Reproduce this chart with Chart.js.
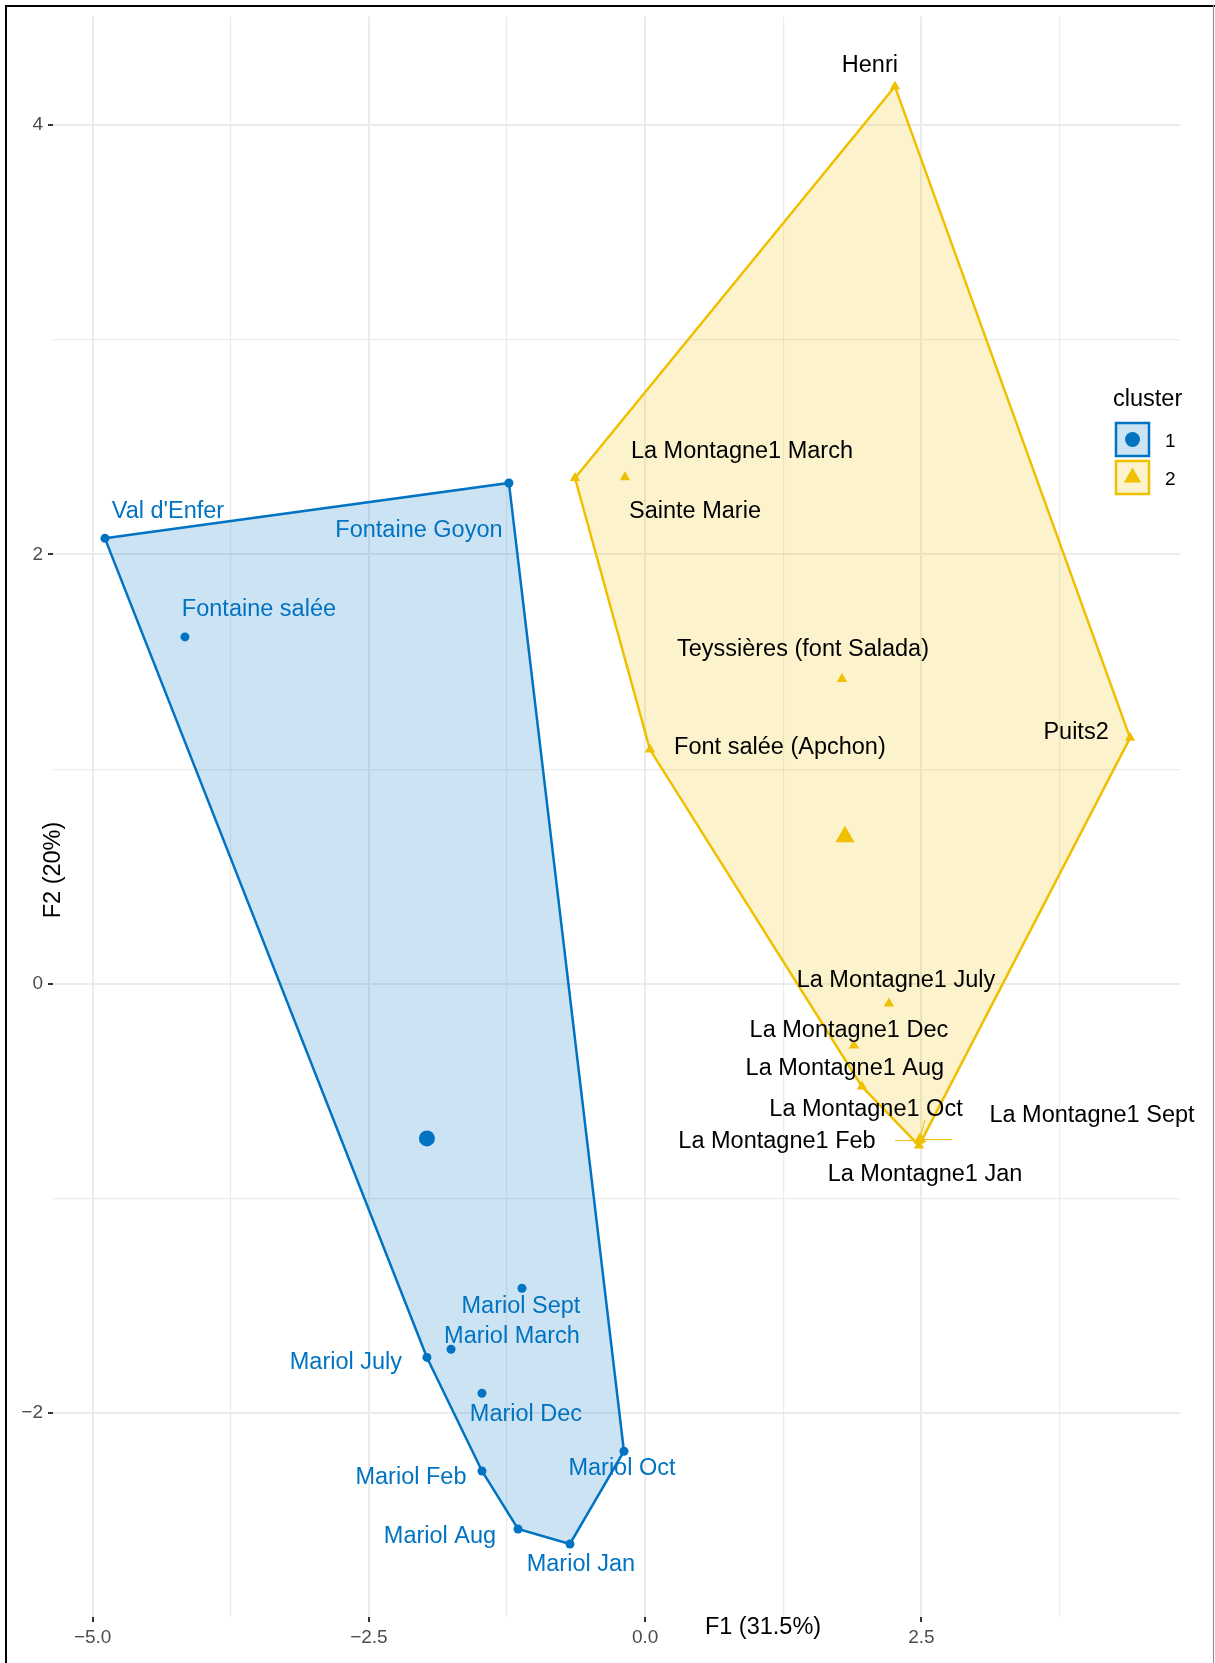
<!DOCTYPE html>
<html lang="en">
<head>
  <meta charset="UTF-8">
  <title>Cluster plot</title>
  <script src="https://cdn.jsdelivr.net/npm/chart.js"></script>
  <style>
    html, body { margin: 0; padding: 0; background: #fff; }
    #wrap { width: 1215px; height: 1663px; }
  </style>
</head>
<body>
<div id="wrap"><canvas id="clusterChart" width="1215" height="1663"></canvas></div>

<script>
  // cluster 1
  const names1 = ["Val d'Enfer", "Fontaine Goyon", "Fontaine salée", "Mariol Sept", "Mariol March",
    "Mariol July", "Mariol Dec", "Mariol Oct", "Mariol Feb", "Mariol Aug", "Mariol Jan"];
  const f1Cluster1 = [-4.889, -1.233, -4.165, -1.115, -1.757, -1.975, -1.477, -0.192, -1.477, -1.151, -0.681];
  const f2Cluster1 = [2.075, 2.333, 1.616, -1.418, -1.702, -1.740, -1.907, -2.177, -2.269, -2.539, -2.609];
  const centre1 = [-1.975, -0.720];
  const hull1 = ["Val d'Enfer", "Fontaine Goyon", "Mariol Oct", "Mariol Jan", "Mariol Aug", "Mariol Feb", "Mariol July"];

  // cluster 2
  const names2 = ["Henri", "La Montagne1 March", "Sainte Marie", "Teyssières (font Salada)", "Font salée (Apchon)",
    "Puits2", "La Montagne1 July", "La Montagne1 Dec", "La Montagne1 Aug", "La Montagne1 Oct",
    "La Montagne1 Sept", "La Montagne1 Feb", "La Montagne1 Jan"];
  const f1Cluster2 = [2.260, -0.183, -0.635, 1.781, 0.043, 4.388, 2.206, 1.889, 1.961, 2.487, 2.496, 2.478, 2.478];
  const f2Cluster2 = [4.180, 2.360, 2.356, 1.420, 1.091, 1.146, -0.092, -0.287, -0.478, -0.720, -0.725, -0.730, -0.753];
  const centre2 = [1.808, 0.685];
  const hull2 = ["Sainte Marie", "Henri", "Puits2", "La Montagne1 Jan", "La Montagne1 Aug", "Font salée (Apchon)"];

  const xTicks = [-5, -3.75, -2.5, -1.25, 0, 1.25, 2.5, 3.75];
  const xMajor = [-5, -2.5, 0, 2.5];
  const yTicks = [-2, -1, 0, 1, 2, 3, 4];
  const yMajor = [-2, 0, 2, 4];

  // label placement (pixel offset from the point), like ggrepel put them
  const labelShift = {
    "Val d'Enfer": [63, -29], "Fontaine Goyon": [-90, 46], "Fontaine salée": [74, -29],
    "Mariol Sept": [-1, 16], "Mariol March": [61, -15], "Mariol July": [-81, 3], "Mariol Dec": [44, 19],
    "Mariol Oct": [-2, 15], "Mariol Feb": [-71, 5], "Mariol Aug": [-78, 6], "Mariol Jan": [11, 19],
    "Henri": [-25, -23], "La Montagne1 March": [117, -28], "Sainte Marie": [120, 32],
    "Teyssières (font Salada)": [-39, -31], "Font salée (Apchon)": [130, -4], "Puits2": [-54, -7],
    "La Montagne1 July": [7, -25], "La Montagne1 Dec": [-5, -17], "La Montagne1 Aug": [-17, -20],
    "La Montagne1 Oct": [-54, -31], "La Montagne1 Sept": [171, -26], "La Montagne1 Feb": [-142, -1],
    "La Montagne1 Jan": [6, 27]
  };
  const segmentEnd = { "La Montagne1 Feb": [-24, 0], "La Montagne1 Sept": [31, 0], "La Montagne1 Oct": [5, -19] };

  const BLUE = '#0073C2';
  const GOLD = '#EFC000';
  const FONT = '"Liberation Sans", Arial, Helvetica, sans-serif';

  function points(names, xs, ys) {
    return names.map((n, i) => ({ x: xs[i], y: ys[i], name: n }));
  }
  function hullPoints(order, names, xs, ys) {
    const p = order.map(n => { const i = names.indexOf(n); return { x: xs[i], y: ys[i] }; });
    p.push(p[0]);
    return p;
  }

  const pts1 = points(names1, f1Cluster1, f2Cluster1);
  const pts2 = points(names2, f1Cluster2, f2Cluster2);

  const overlay = {
    id: 'overlay',
    afterDatasetsDraw(chart) {
      const ctx = chart.ctx;
      const xs = chart.scales.x, ys = chart.scales.y;
      ctx.save();
      // repel segments
      ctx.strokeStyle = GOLD;
      ctx.lineWidth = 1;
      pts2.forEach(p => {
        const s = segmentEnd[p.name];
        if (!s) return;
        const px = xs.getPixelForValue(p.x), py = ys.getPixelForValue(p.y);
        ctx.beginPath();
        ctx.moveTo(px, py);
        ctx.lineTo(px + s[0], py + s[1]);
        ctx.stroke();
      });
      // point labels
      ctx.font = '23.5px ' + FONT;
      ctx.textAlign = 'center';
      ctx.textBaseline = 'alphabetic';
      [[pts1, BLUE], [pts2, '#000000']].forEach(([list, col]) => {
        ctx.fillStyle = col;
        list.forEach(p => {
          const sh = labelShift[p.name] || [0, 0];
          const px = xs.getPixelForValue(p.x) + sh[0];
          const py = ys.getPixelForValue(p.y) + sh[1];
          ctx.fillText(p.name, px, py + 8.4);
        });
      });
      ctx.restore();
    },
    afterDraw(chart) {
      const ctx = chart.ctx;
      ctx.save();
      // axis titles
      ctx.fillStyle = '#000000';
      ctx.font = '23.5px ' + FONT;
      ctx.textAlign = 'center';
      ctx.textBaseline = 'alphabetic';
      ctx.fillText('F1 (31.5%)', 763, 1634);
      ctx.save();
      ctx.translate(60, 870);
      ctx.rotate(-Math.PI / 2);
      ctx.fillText('F2 (20%)', 0, 0);
      ctx.restore();

      // legend
      ctx.textAlign = 'left';
      ctx.fillText('cluster', 1113, 406);
      const keys = [[BLUE, 'rgba(0,115,194,0.2)', 'circle', '1', 422], [GOLD, 'rgba(239,192,0,0.2)', 'triangle', '2', 460]];
      keys.forEach(([col, fillCol, shape, lab, top]) => {
        ctx.fillStyle = '#ffffff';
        ctx.fillRect(1115, top, 35, 35);
        ctx.fillStyle = fillCol;
        ctx.fillRect(1115, top, 35, 35);
        ctx.strokeStyle = col;
        ctx.lineWidth = 2.5;
        ctx.strokeRect(1116, top + 1, 33, 33);
        ctx.fillStyle = col;
        const cx = 1132.5, cy = top + 17.5;
        ctx.beginPath();
        if (shape === 'circle') {
          ctx.arc(cx, cy, 7.5, 0, Math.PI * 2);
        } else {
          const r = 10;
          ctx.moveTo(cx, cy - r);
          ctx.lineTo(cx + r * 0.866, cy + r * 0.5);
          ctx.lineTo(cx - r * 0.866, cy + r * 0.5);
          ctx.closePath();
        }
        ctx.fill();
        ctx.fillStyle = '#000000';
        ctx.font = '19px ' + FONT;
        ctx.fillText(lab, 1165, cy + 7);
      });

      // outer frame
      ctx.fillStyle = '#000000';
      ctx.fillRect(5, 5, 2, 1663);
      ctx.fillRect(5, 5, 1210, 2);
      ctx.fillStyle = '#888888';
      ctx.fillRect(1213, 5, 1, 1663);
      ctx.restore();
    }
  };

  const isMajor = (list, v) => list.some(m => Math.abs(m - v) < 1e-6);

  new Chart(document.getElementById('clusterChart'), {
    type: 'scatter',
    data: {
      datasets: [
        { data: [{ x: centre1[0], y: centre1[1] }], pointStyle: 'circle', pointRadius: 8,
          backgroundColor: BLUE, borderWidth: 0, order: 1 },
        { data: [{ x: centre2[0], y: centre2[1] }], pointStyle: 'triangle', pointRadius: 11,
          backgroundColor: GOLD, borderWidth: 0, order: 1 },
        { data: pts1, pointStyle: 'circle', pointRadius: 4.5, backgroundColor: BLUE, borderWidth: 0, order: 1 },
        { data: pts2, pointStyle: 'triangle', pointRadius: 6, backgroundColor: GOLD, borderWidth: 0, order: 1 },
        { data: hullPoints(hull1, names1, f1Cluster1, f2Cluster1), showLine: true, fill: 'shape',
          borderColor: BLUE, borderWidth: 2.5, backgroundColor: 'rgba(0,115,194,0.2)',
          pointRadius: 0, tension: 0, order: 2 },
        { data: hullPoints(hull2, names2, f1Cluster2, f2Cluster2), showLine: true, fill: 'shape',
          borderColor: GOLD, borderWidth: 2.5, backgroundColor: 'rgba(239,192,0,0.2)',
          pointRadius: 0, tension: 0, order: 2 }
      ]
    },
    options: {
      responsive: false,
      animation: false,
      events: [],
      devicePixelRatio: 1,
      layout: { padding: { left: 0, top: 15, right: 35, bottom: 0 } },
      plugins: { legend: { display: false }, tooltip: { enabled: false } },
      scales: {
        x: {
          type: 'linear',
          min: -5.359,
          max: 4.840,
          afterBuildTicks: s => { s.ticks = xTicks.map(v => ({ value: v })); },
          afterFit: s => { s.height = 46; },
          border: { display: false },
          grid: {
            color: '#EBEBEB',
            lineWidth: c => isMajor(xMajor, c.tick.value) ? 2 : 1.2,
            tickLength: 5,
            tickWidth: 2,
            tickColor: c => isMajor(xMajor, c.tick.value) ? '#333333' : 'rgba(0,0,0,0)'
          },
          ticks: {
            autoSkip: false,
            maxRotation: 0,
            padding: 4,
            color: '#4D4D4D',
            font: { size: 19, family: FONT },
            callback: v => isMajor(xMajor, v) ? v.toFixed(1).replace('-', '\u2212') : ''
          }
        },
        y: {
          type: 'linear',
          min: -2.949,
          max: 4.506,
          afterBuildTicks: s => { s.ticks = yTicks.map(v => ({ value: v })); },
          afterFit: s => { s.width = 53; },
          border: { display: false },
          grid: {
            color: '#EBEBEB',
            lineWidth: c => isMajor(yMajor, c.tick.value) ? 2 : 1.2,
            tickLength: 5,
            tickWidth: 2,
            tickColor: c => isMajor(yMajor, c.tick.value) ? '#333333' : 'rgba(0,0,0,0)'
          },
          ticks: {
            autoSkip: false,
            padding: 5,
            color: '#4D4D4D',
            font: { size: 19, family: FONT },
            callback: v => isMajor(yMajor, v) ? String(v).replace('-', '\u2212') : ''
          }
        }
      }
    },
    plugins: [overlay]
  });
</script>

</body>
</html>
